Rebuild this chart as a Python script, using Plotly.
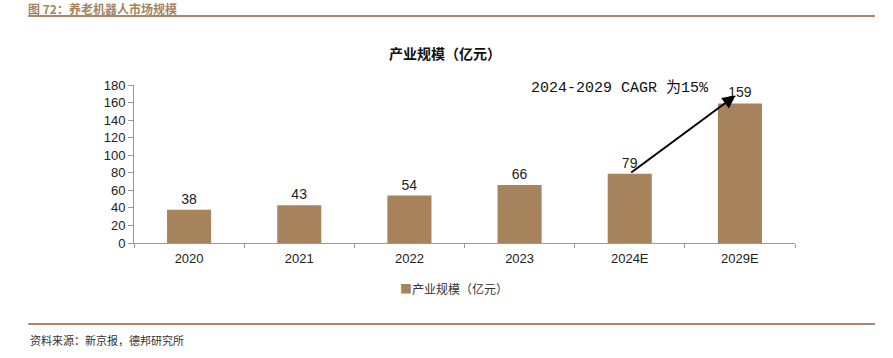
import plotly.graph_objects as go

categories = ["2020", "2021", "2022", "2023", "2024E", "2029E"]
values = [38, 43, 54, 66, 79, 159]
series_name = "产业规模（亿元）"
y_ticks = [0, 20, 40, 60, 80, 100, 120, 140, 160, 180]

BAR = "#A6835D"
LINE = "#A8876A"

fig = go.Figure()
fig.add_trace(go.Bar(
    x=categories, y=values, name=series_name,
    marker=dict(color=BAR, line=dict(width=0)),
    width=0.4,
    text=[str(v) for v in values], textposition="outside",
    textfont=dict(family="Liberation Sans, Arial", size=14, color="#222"),
    cliponaxis=False,
    showlegend=False,
))

fig.update_layout(
    width=893, height=358,
    margin=dict(l=134, r=98, t=85, b=115),
    paper_bgcolor="white", plot_bgcolor="white",
    bargap=0.6,
    font=dict(family="Liberation Sans, Arial", size=13, color="#222"),
    showlegend=False,
    xaxis=dict(type="category", showline=True, linecolor="#999", linewidth=1,
               ticks="outside", tickson="boundaries", ticklen=4, tickcolor="#999",
               ticklabelstandoff=3,
               showgrid=False, tickfont=dict(size=13, color="#222")),
    yaxis=dict(range=[0, 180], tickvals=y_ticks, showline=True, linecolor="#999",
               linewidth=1, ticks="outside", ticklen=5, tickcolor="#999",
               showgrid=False, zeroline=False, tickfont=dict(size=13, color="#222")),
)

# Legend (drawn as text so the swatch sits right next to the label)
fig.add_annotation(xref="paper", yref="paper", x=0.40, y=-0.285, xanchor="left", yanchor="middle",
                   text=f"<span style='color:{BAR}'>■</span>{series_name}", showarrow=False,
                   font=dict(family="Noto Sans CJK SC", size=12, color="#333"))

# Title above plot
fig.add_annotation(xref="paper", yref="paper", x=0.47, y=1.205, xanchor="center", yanchor="middle",
                   text=f"<b>{series_name}</b>", showarrow=False,
                   font=dict(family="Noto Sans CJK SC", size=14, color="#111"))

# Header
fig.add_annotation(xref="paper", yref="paper", x=-0.163, y=1.485, xanchor="left", yanchor="middle",
                   text="<b>图 72：养老机器人市场规模</b>", showarrow=False,
                   font=dict(family="Noto Sans CJK SC", size=12, color="#A6835D"))
fig.add_shape(type="line", xref="paper", yref="paper", x0=-0.160, x1=1.121, y0=1.437, y1=1.437,
              line=dict(color=LINE, width=2))
fig.add_shape(type="line", xref="paper", yref="paper", x0=-0.160, x1=1.121, y0=-0.513, y1=-0.513,
              line=dict(color=LINE, width=2))
fig.add_annotation(xref="paper", yref="paper", x=-0.160, y=-0.615, xanchor="left", yanchor="middle",
                   text="资料来源：新京报，德邦研究所", showarrow=False,
                   font=dict(family="Noto Sans CJK SC", size=11, color="#333"))

# CAGR arrow from the 2024E bar top towards the 2029E bar
fig.add_annotation(x=len(categories) - 1.04, y=values[-1] + 9, xref="x", yref="y",
                   ax=len(categories) - 2, ay=values[-2], axref="x", ayref="y",
                   showarrow=True, arrowhead=2, arrowsize=1.3, arrowwidth=2, arrowcolor="#000",
                   text="")
fig.add_annotation(xref="paper", yref="paper", x=0.735, y=0.98, xanchor="center", yanchor="middle",
                   text="2024-2029 CAGR 为15%", showarrow=False,
                   font=dict(family="Liberation Mono, Noto Sans CJK SC", size=15, color="#111"))

fig.write_html("out.html", config={"displayModeBar": False},
               post_script="document.body.style.margin='0';")
